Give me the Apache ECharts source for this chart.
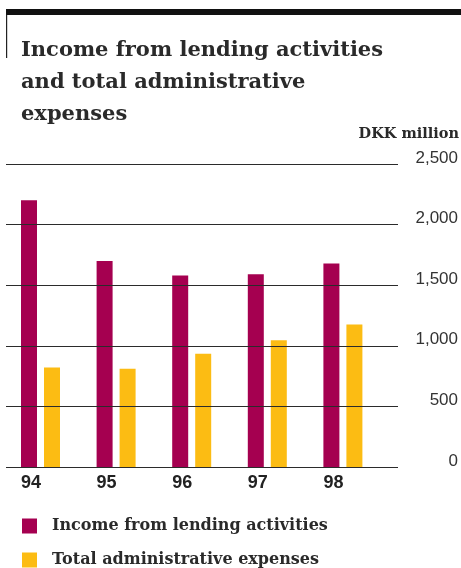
<!DOCTYPE html>
<html>
<head>
<meta charset="utf-8">
<script src="https://cdn.jsdelivr.net/npm/echarts@6/dist/echarts.min.js"></script>
<style>
  html, body { margin: 0; padding: 0; background: #fff; }
  #chart { width: 461px; height: 568px; }
</style>
</head>
<body>
<div id="chart"></div>
<script>
// Years on the category axis
const years = ['94', '95', '96', '97', '98'];
// DKK million
const lendingIncome = [2200, 1700, 1580, 1590, 1680];
const adminExpenses = [820, 810, 935, 1045, 1175];
// Series names
const seriesNames = ['Income from lending activities', 'Total administrative expenses'];
// Value axis ticks
const yMin = 0;
const yMax = 2500;
const yStep = 500;

const MAGENTA = '#A50050';
const YELLOW = '#FCBC13';
const serif = '"DejaVu Serif", serif';
const sans = '"Liberation Sans", Arial, sans-serif';

const legendBase = {
  orient: 'vertical', left: 22, padding: 0,
  itemWidth: 15, itemHeight: 15, icon: 'rect',
  textStyle: { fontFamily: serif, fontWeight: 'bold', fontSize: 16, color: '#2a2a2a', padding: [0, 0, 0, 10] }
};

const chart = echarts.init(document.getElementById('chart'), null, { renderer: 'canvas' });

chart.setOption({
  backgroundColor: '#fff',
  animation: false,
  title: [
    {
      text: 'Income from lending activities\nand total administrative\nexpenses',
      left: 21, top: 35, padding: 0,
      textStyle: { fontFamily: serif, fontWeight: 'bold', fontSize: 21, lineHeight: 32, color: '#2a2a2a' }
    },
    {
      text: 'DKK million',
      right: 2, top: 125, padding: 0,
      textStyle: { fontFamily: serif, fontWeight: 'bold', fontSize: 14.5, lineHeight: 18, color: '#2a2a2a' }
    }
  ],
  graphic: [
    { type: 'rect', shape: { x: 6, y: 9, width: 455, height: 6 }, style: { fill: '#111' } },
    { type: 'rect', shape: { x: 6, y: 15, width: 1.2, height: 43 }, style: { fill: '#222' } }
  ],
  legend: [
    Object.assign({}, legendBase, { top: 518, data: [seriesNames[0]] }),
    Object.assign({}, legendBase, { top: 552, data: [seriesNames[1]] })
  ],
  grid: [
    // rules and value labels
    { left: 6, right: 62, top: 164, bottom: 101 },
    // bars
    { left: 2.7, width: 378, top: 164, bottom: 101 }
  ],
  xAxis: [
    { gridIndex: 0, type: 'category', data: years, show: false },
    {
      gridIndex: 1, type: 'category', data: years,
      axisLine: { show: false }, axisTick: { show: false }, axisLabel: { show: false }
    }
  ],
  yAxis: [
    {
      gridIndex: 0, type: 'value', position: 'right',
      min: yMin, max: yMax, interval: yStep, z: 5,
      axisLine: { show: false }, axisTick: { show: false },
      splitLine: { show: true, lineStyle: { color: '#2b2b2b', width: 1 } },
      axisLabel: {
        align: 'right', margin: 60,
        fontFamily: sans, fontSize: 17, color: '#333',
        verticalAlign: 'bottom', lineHeight: 12,
        formatter: v => v.toLocaleString('en-US')
      }
    },
    {
      gridIndex: 1, type: 'value', min: yMin, max: yMax, interval: yStep,
      show: false, splitLine: { show: false }
    }
  ],
  series: [
    {
      name: seriesNames[0],
      type: 'bar', xAxisIndex: 1, yAxisIndex: 1,
      data: lendingIncome, barWidth: 16, barGap: '43.75%',
      itemStyle: { color: MAGENTA },
      label: {
        show: true, position: 'bottom', distance: 7,
        formatter: '{b}', align: 'left', offset: [-8, 0],
        fontFamily: sans, fontWeight: 'bold', fontSize: 18, color: '#222'
      }
    },
    {
      name: seriesNames[1],
      type: 'bar', xAxisIndex: 1, yAxisIndex: 1,
      data: adminExpenses, barWidth: 16, barGap: '43.75%',
      itemStyle: { color: YELLOW }
    }
  ]
});
</script>
</body>
</html>
